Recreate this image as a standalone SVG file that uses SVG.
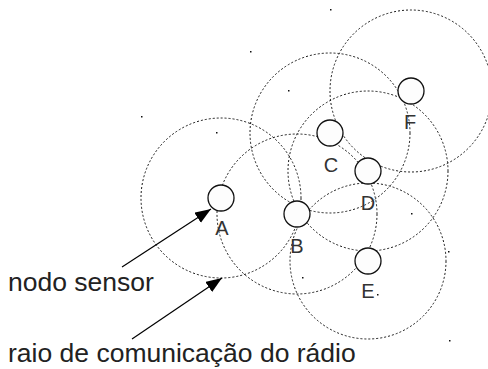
<svg xmlns="http://www.w3.org/2000/svg" width="488" height="369" viewBox="0 0 488 369">
  <style>
    .range { fill: none; stroke: #1a1a1a; stroke-width: 1; stroke-dasharray: 2 2; }
    .node { fill: #fdfdfd; stroke: #111; stroke-width: 1.3; }
    .lbl { font-family: "Liberation Sans", Arial, sans-serif; font-size: 20px; fill: #333; text-anchor: middle; }
    .caption { font-family: "Liberation Sans", Arial, sans-serif; font-size: 26.5px; fill: #222; }
    .arrow { stroke: #000; stroke-width: 1.2; fill: none; marker-end: url(#head); }
    .speck { fill: #111; }
  </style>
  <defs>
    <marker id="head" markerUnits="userSpaceOnUse" markerWidth="17" markerHeight="13" refX="16" refY="6" orient="auto">
      <path d="M0,0 L16,6 L0,12 z" fill="#000"/>
    </marker>
  </defs>

  <rect width="488" height="369" fill="#fff"/>

  <!-- radio range of each node -->
  <g id="ranges">
    <circle class="range" cx="221" cy="198" r="80"/>
    <circle class="range" cx="297" cy="214" r="80"/>
    <circle class="range" cx="330" cy="133" r="80"/>
    <circle class="range" cx="368" cy="171" r="80"/>
    <circle class="range" cx="368" cy="261" r="78"/>
    <circle class="range" cx="411" cy="91" r="81"/>
  </g>

  <!-- stray specks -->
  <g id="specks">
    <rect class="speck" x="141" y="116" width="1.5" height="1.5"/>
    <rect class="speck" x="216" y="132" width="1.5" height="1.5"/>
    <rect class="speck" x="250" y="51" width="1.5" height="1.5"/>
    <rect class="speck" x="288" y="90" width="1.5" height="1.5"/>
    <rect class="speck" x="330" y="9" width="1.5" height="1.5"/>
    <rect class="speck" x="411" y="213" width="1.5" height="1.5"/>
    <rect class="speck" x="302" y="277" width="1.5" height="1.5"/>
    <rect class="speck" x="448" y="251" width="1.5" height="1.5"/>
    <rect class="speck" x="377" y="294" width="1.5" height="1.5"/>
    <rect class="speck" x="449" y="340" width="1.5" height="1.5"/>
  </g>

  <g id="node-A">
    <circle class="node" cx="221" cy="198" r="13"/>
    <text class="lbl" x="222" y="235">A</text>
  </g>
  <g id="node-B">
    <circle class="node" cx="297" cy="214" r="13"/>
    <text class="lbl" x="297" y="253">B</text>
  </g>
  <g id="node-C">
    <circle class="node" cx="330" cy="133" r="13"/>
    <text class="lbl" x="331" y="172">C</text>
  </g>
  <g id="node-D">
    <circle class="node" cx="368" cy="171" r="13"/>
    <text class="lbl" x="368" y="210">D</text>
  </g>
  <g id="node-E">
    <circle class="node" cx="368" cy="261" r="13"/>
    <text class="lbl" x="368" y="298">E</text>
  </g>
  <g id="node-F">
    <circle class="node" cx="411" cy="91" r="13"/>
    <text class="lbl" x="410" y="129">F</text>
  </g>

  <!-- captions with pointers -->
  <g id="connectors">
    <line class="arrow" x1="122" y1="267" x2="211" y2="209"/>
    <line class="arrow" x1="132" y1="339" x2="222" y2="278"/>
  </g>
  <g id="captions">
    <text class="caption" x="8" y="291">nodo sensor</text>
    <text class="caption" x="8" y="362">raio de comunicação do rádio</text>
  </g>
</svg>
